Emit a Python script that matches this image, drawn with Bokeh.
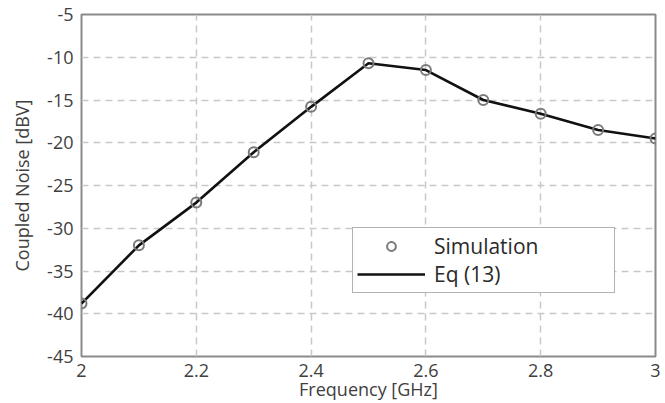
from bokeh.plotting import figure
from bokeh.models import FixedTicker, Range1d, Legend, LegendItem
from bokeh.embed import file_html
from bokeh.resources import INLINE

freq = [2.0, 2.1, 2.2, 2.3, 2.4, 2.5, 2.6, 2.7, 2.8, 2.9, 3.0]
sim = [-38.8, -32.0, -27.0, -21.1, -15.8, -10.7, -11.5, -15.0, -16.6, -18.5, -19.5]
eq13 = [-38.8, -32.0, -27.0, -21.1, -15.8, -10.7, -11.5, -15.0, -16.6, -18.5, -19.5]
x_ticks = [2.0, 2.2, 2.4, 2.6, 2.8, 3.0]
x_labels = ["2", "2.2", "2.4", "2.6", "2.8", "3"]
y_ticks = [-45, -40, -35, -30, -25, -20, -15, -10, -5]
y_labels = ["-45", "-40", "-35", "-30", "-25", "-20", "-15", "-10", "-5"]

FONT = "Open Sans"
TXT = "#404040"

p = figure(frame_width=574, frame_height=342, output_backend="svg", toolbar_location=None,
           x_range=Range1d(2, 3), y_range=Range1d(-45, -5),
           min_border_left=81, min_border_right=8, min_border_top=14, min_border_bottom=45)

p.outline_line_color = "#8a8a8a"
p.outline_line_width = 2

for ax in (p.xaxis[0], p.yaxis[0]):
    ax.axis_line_color = None
    ax.major_tick_in = 0
    ax.major_tick_out = 0
    ax.minor_tick_line_color = None
    ax.major_label_text_font = FONT
    ax.major_label_text_font_size = "18px"
    ax.major_label_text_color = TXT
    ax.axis_label_text_font = FONT
    ax.axis_label_text_font_size = "18px"
    ax.axis_label_text_font_style = "normal"
    ax.axis_label_text_color = TXT

p.xaxis.ticker = FixedTicker(ticks=x_ticks)
p.xaxis.major_label_overrides = {t: l for t, l in zip(x_ticks, x_labels)}
p.yaxis.ticker = FixedTicker(ticks=y_ticks)
p.yaxis.major_label_overrides = {t: l for t, l in zip(y_ticks, y_labels)}
p.xaxis.axis_label = "Frequency [GHz]"
p.yaxis.axis_label = "Coupled Noise [dBV]"
p.xaxis.major_label_standoff = 7
p.xaxis.axis_label_standoff = -3
p.yaxis.major_label_standoff = 8
p.yaxis.axis_label_standoff = 10

for g in (p.xgrid[0], p.ygrid[0]):
    g.grid_line_color = "#c8c8c8"
    g.grid_line_dash = "7 5"
    g.grid_line_width = 1.5

ln = p.line(freq, eq13, line_color="#111111", line_width=2.6)
sc = p.scatter(freq, sim, marker="circle", size=10, fill_color=None,
               line_color="#7a7a7a", line_width=2)

legend = Legend(items=[LegendItem(label="Simulation", renderers=[sc]),
                       LegendItem(label="Eq (13)", renderers=[ln])],
                location=(271, 63))
legend.label_text_font = FONT
legend.label_text_font_size = "21px"
legend.label_text_color = "#2a2a2a"
legend.glyph_width = 68
legend.glyph_height = 22
legend.label_height = 22
legend.label_width = 176
legend.spacing = 0
legend.padding = 4
legend.label_standoff = 9
legend.margin = 0
legend.border_line_color = "#666666"
legend.border_line_width = 1.5
legend.background_fill_alpha = 1
p.add_layout(legend, "center")

open("out.html", "w").write(file_html(p, INLINE))
